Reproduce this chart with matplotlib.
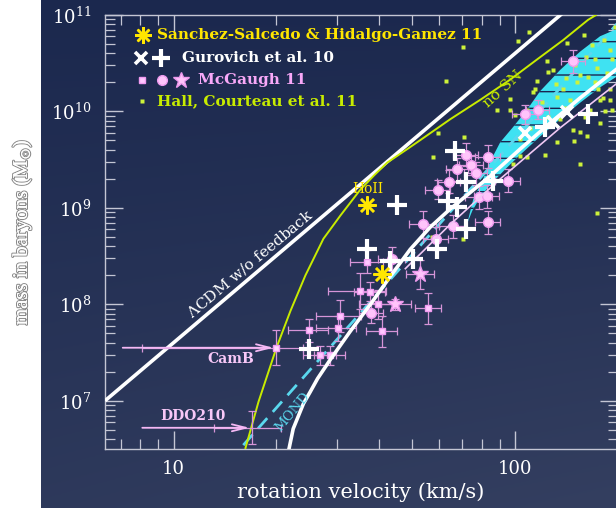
import numpy as np
import matplotlib.pyplot as plt
import matplotlib.patheffects as pe
from matplotlib.patches import Polygon
from matplotlib.ticker import NullFormatter, FuncFormatter

plt.rcParams['font.family'] = ['DejaVu Serif']
plt.rcParams['mathtext.fontset'] = 'dejavuserif'
plt.rcParams['hatch.linewidth'] = 1.0

# --- model lines (v in km/s, log10 of baryonic mass) ---
lcdm_v = [6.3, 142.0]
lcdm_logm = [7.0, 11.06]

nosn_v = [16.24, 17.73, 20.01, 21.98, 24.32, 27.46, 30.78, 35.23, 38.7, 42.24, 48.33,
          53.11, 64.6, 79.0, 96.69, 116.0, 138.2, 163.5, 172.5]
nosn_logm = [6.51, 6.99, 7.55, 7.93, 8.30, 8.68, 8.92, 9.19, 9.34, 9.47, 9.61,
             9.71, 9.92, 10.12, 10.33, 10.54, 10.74, 10.95, 11.0]

mond_v = [16.0, 200.0]
mond_logm = [6.54, 10.92]

fb_v = [21.8, 22.4, 23.0, 24.0, 25.1, 26.4, 28.8, 32.9, 37.7, 43.1, 49.3, 56.4,
        64.6, 73.9, 84.5, 103.4, 126.6, 154.9, 200.0]
fb_logm = [6.51, 6.71, 6.81, 6.97, 7.09, 7.23, 7.43, 7.72, 8.00, 8.29, 8.57, 8.80,
           8.99, 9.16, 9.33, 9.61, 9.88, 10.14, 10.45]

fit_v = [47.7, 64.6, 90.4, 135.4, 200.0]
fit_logm = [8.37, 8.83, 9.30, 9.83, 10.30]

# simulated galaxies band: upper edge then lower edge
band_v = [72.4, 75.4, 80.6, 84.5, 90.4, 98.7, 108.4, 118.3, 135.4, 154.9, 177.3, 200.0,
          200.0, 177.3, 154.9, 135.4, 118.3, 103.4, 93.5, 84.5, 79.0, 74.9]
band_logm = [8.84, 9.09, 9.30, 9.48, 9.68, 9.84, 10.02, 10.21, 10.43, 10.62, 10.78, 10.86,
             10.37, 10.25, 10.09, 9.92, 9.74, 9.55, 9.40, 9.24, 9.11, 8.97]

# --- data ---
# Sanchez-Salcedo & Hidalgo-Gamez 11
ast_v = [36.9, 40.8]
ast_logm = [9.03, 8.31]

# Gurovich et al. 10
plus_v = [45.2, 36.9, 43.1, 50.3, 59.2, 25.0, 66.8, 71.9, 63.7, 67.7, 71.9, 86.2, 163.5, 122.4]
plus_logm = [9.03, 8.57, 8.45, 8.47, 8.57, 7.54, 9.59, 9.27, 9.07, 9.01, 8.78, 9.28, 9.97, 9.84]
xm_v = [129.1, 141.9, 107.0]
xm_logm = [9.89, 9.99, 9.78]

# McGaugh 11
sq_v = [36.9, 35.2, 37.7, 39.8, 30.8, 30.2, 25.0, 40.8, 26.9, 28.8, 55.7]
sq_logm = [8.44, 8.14, 8.13, 8.00, 7.88, 7.75, 7.73, 7.72, 7.47, 7.47, 7.96]
sq_verr = [4.0, 6.8, 4.0, 4.9, 4.6, 4.0, 3.3, 4.2, 3.0, 3.0, 4.9]
sq_merr = [0.12, 0.19, 0.10, 0.15, 0.17, 0.13, 0.12, 0.16, 0.10, 0.10, 0.16]

circ_v = [71.9, 67.7, 74.3, 76.9, 64.1, 59.6, 78.5, 82.8, 53.8, 65.9, 83.4, 58.7,
          43.7, 147.8, 116.8, 107.0, 83.4, 95.4, 37.9]
circ_logm = [9.55, 9.40, 9.44, 9.36, 9.27, 9.19, 9.11, 9.12, 8.83, 8.81, 8.85, 8.68,
             8.47, 10.52, 10.02, 9.97, 9.53, 9.28, 7.91]
circ_verr = [6, 5, 6, 6, 5, 5, 7, 7, 5, 6, 7, 5, 4, 12, 9, 9, 7, 8, 3]
circ_merr = [0.12, 0.12, 0.10, 0.12, 0.12, 0.10, 0.12, 0.12, 0.14, 0.12, 0.12, 0.12,
             0.12, 0.12, 0.10, 0.10, 0.12, 0.12, 0.10]

star_v = [44.6, 52.8]
star_logm = [8.00, 8.31]
star_verr = [5.0, 5.0]
star_merr = [0.06, 0.15]

camb = (20.0, 7.55)
ddo210 = (17.0, 6.72)

# Hall, Courteau et al. 11
hall_v = [109.9, 102.0, 141.9, 70.5, 159.1, 196.1, 124.1, 62.8, 116.0, 129.2, 96.7, 88.6,
          70.9, 59.6, 100.0, 114.4, 154.9, 162.4, 147.8, 192.2, 180.9, 174.9, 185.8, 171.3,
          163.5, 173.7, 144.8, 151.8, 138.2, 132.7, 120.0, 112.9, 108.4, 122.4, 108.4, 132.7,
          148.8, 103.4, 98.7, 154.9, 57.2, 70.5, 183.4, 173.7, 57.6, 96.7, 135.4, 165.7,
          177.3, 189.6, 144.8, 126.6, 171.3, 189.6, 154.9, 124.9, 131.8, 141.0, 149.8, 161.3,
          167.9, 182.0, 192.2, 140.0, 124.9, 160.2, 177.3, 110.6, 103.4, 189.6]
hall_logm = [10.82, 10.73, 10.71, 10.67, 10.79, 10.88, 10.52, 10.32, 10.32, 10.43, 10.13, 10.01,
             9.74, 9.78, 9.96, 10.23, 9.79, 9.75, 9.81, 10.02, 10.14, 10.23, 10.40, 10.31,
             10.36, 10.45, 10.52, 10.31, 10.23, 10.15, 10.10, 10.20, 10.02, 9.55, 9.53, 9.68,
             9.69, 9.54, 9.45, 9.45, 8.70, 8.68, 10.00, 8.95, 9.53, 10.01, 9.92, 10.02,
             10.12, 10.23, 10.12, 9.86, 10.54, 10.64, 10.38, 10.41, 10.28, 10.35, 10.48, 10.56,
             10.69, 10.74, 10.54, 10.04, 9.94, 9.94, 9.88, 9.83, 9.71, 10.12]


def m(logm):
    return 10 ** np.asarray(logm, dtype=float)


def merr(logm, e):
    mm = m(logm)
    e = np.asarray(e, dtype=float)
    return [mm - mm * 10 ** -e, mm * 10 ** e - mm]


fig = plt.figure(figsize=(6.16, 5.08), dpi=100, facecolor='white')

# navy backdrop, slightly lighter towards the bottom
bg = fig.add_axes([41 / 616, 0, 575 / 616, 1], zorder=0)
yy, xx = np.mgrid[0:1:200j, 0:1:200j]
t = np.clip(0.75 * yy + 0.25 * xx * yy, 0, 1)
top = np.array([27, 40, 78]) / 255
bot = np.array([52, 63, 96]) / 255
bg.imshow(top + (bot - top) * t[..., None], aspect='auto', extent=(0, 1, 0, 1), origin='upper')
bg.axis('off')

ax = fig.add_axes([105 / 616, 59 / 508, 513 / 616, 434 / 508], zorder=1)
ax.set_facecolor('none')
ax.set_xscale('log')
ax.set_yscale('log')
ax.set_xlim(6.3, 200)
ax.set_ylim(10 ** 6.5, 1e11)

frame = '#c4c6d4'
for s in ax.spines.values():
    s.set_color(frame)
    s.set_linewidth(1.0)
ax.tick_params(which='both', direction='in', top=True, right=True, colors=frame,
               labelcolor='white', labelsize=13)
ax.tick_params(which='major', length=13, width=1.0)
ax.tick_params(which='minor', length=7, width=0.9)
ax.tick_params(axis='y', pad=10)
ax.tick_params(axis='x', pad=8)
ax.xaxis.set_major_formatter(FuncFormatter(lambda v, p: f'{v:g}'))
ax.xaxis.set_minor_formatter(NullFormatter())
ax.yaxis.set_minor_formatter(NullFormatter())

# band of simulated galaxies
band = Polygon(np.column_stack([band_v, m(band_logm)]), closed=True, facecolor='#3fe2f2',
               edgecolor='#1a2550', hatch='-', lw=0, zorder=2)
ax.add_patch(band)

ax.plot(mond_v, m(mond_logm), color='#5ad8ee', lw=2, dashes=(5, 3), zorder=2.5)
ax.plot(lcdm_v, m(lcdm_logm), color='white', lw=2.6, zorder=3, solid_capstyle='butt')
ax.plot(nosn_v, m(nosn_logm), color='#c8ec00', lw=1.4, zorder=3.1)

# Hall, Courteau dots
ax.plot(hall_v, m(hall_logm), ls='none', marker='s', ms=2.6, mfc='#cdf23a', mec='none', zorder=4)

# McGaugh error bars and symbols
ekw = dict(fmt='none', ecolor='#d695d8', elinewidth=0.9, capsize=3, capthick=0.9, zorder=4)
ax.errorbar(sq_v, m(sq_logm), xerr=sq_verr, yerr=merr(sq_logm, sq_merr), **ekw)
ax.errorbar(circ_v, m(circ_logm), xerr=circ_verr, yerr=merr(circ_logm, circ_merr), **ekw)
ax.errorbar(star_v, m(star_logm), xerr=star_verr, yerr=merr(star_logm, star_merr), **ekw)
ax.errorbar([camb[0]], m([camb[1]]), xerr=[[11.9], [4.0]], yerr=merr([camb[1]], [0.18]), **ekw)
ax.errorbar([ddo210[0]], m([ddo210[1]]), xerr=[[3.9], [3.6]], yerr=merr([ddo210[1]], [0.17]), **ekw)

ax.plot(sq_v, m(sq_logm), ls='none', marker='s', ms=5, mfc='#ffc8ff', mec='#f09af0', zorder=5)
ax.plot(circ_v, m(circ_logm), ls='none', marker='o', ms=7, mfc='#ffc4fb', mec='#ee9aee', zorder=5)
ax.plot(star_v, m(star_logm), ls='none', marker='*', ms=12, mfc='#ffc4fb', mec='#ee9aee', zorder=5)
ax.plot([camb[0]], m([camb[1]]), ls='none', marker='s', ms=5, mfc='#ffd8ff', mec='#f09af0', zorder=5)

# feedback model and fit
ax.plot(fb_v, m(fb_logm), color='white', lw=2.6, zorder=6)
ax.plot(fit_v, m(fit_logm), color='#f0c8f4', lw=1.2, zorder=6)

# Gurovich and Sanchez-Salcedo symbols
ax.plot(plus_v, m(plus_logm), ls='none', marker='+', ms=14, mew=3, color='white', zorder=7)
ax.plot(xm_v, m(xm_logm), ls='none', marker='x', ms=8, mew=2.6, color='white', zorder=7)
ax.plot(ast_v, m(ast_logm), ls='none', marker=(8, 2, 0), ms=13, mew=1.8, color='#ffe600', zorder=7)

# arrows pointing at CamB and DDO210
akw = dict(arrowstyle='->,head_length=1.0,head_width=0.25', color='#f4b8f4', lw=1.3,
           shrinkA=0, shrinkB=2)
ax.annotate('', xy=(camb[0], m(camb[1])), xytext=(7.1, m(camb[1])), arrowprops=akw, zorder=6)
ax.annotate('', xy=(ddo210[0], m(ddo210[1])), xytext=(8.1, m(ddo210[1])), arrowprops=akw, zorder=6)

# line and object labels
ax.text(16.7, m(8.42), r'$\Lambda$CDM w/o feedback', color='white', fontsize=11,
        rotation=40, ha='center', va='center', rotation_mode='anchor', zorder=8)
ax.text(92.0, m(10.23), 'no SN', color='#c8ec00', fontsize=11, rotation=42,
        ha='center', va='center', rotation_mode='anchor', zorder=8)
ax.text(22.3, m(6.89), 'MOND', color='#5ad8ee', fontsize=9.5, rotation=50,
        ha='center', va='center', rotation_mode='anchor', zorder=8)
ax.text(37.1, m(9.20), 'HoII', color='#ffe600', fontsize=10, ha='center', va='center', zorder=8)
ax.text(14.7, m(7.43), 'CamB', color='#f8c8f8', fontsize=10, fontweight='bold',
        ha='center', va='center', zorder=8)
ax.text(11.4, m(6.84), 'DDO210', color='#f8c8f8', fontsize=10, fontweight='bold',
        ha='center', va='center', zorder=8)

# key in the upper left corner
tr = ax.transAxes
kfs = 11
ax.plot([0.074], [0.954], transform=tr, marker=(8, 2, 0), ms=12, mew=1.8, color='#ffe600', zorder=8)
ax.text(0.101, 0.954, 'Sanchez-Salcedo & Hidalgo-Gamez 11', transform=tr, color='#ffe600',
        fontsize=kfs, fontweight='bold', va='center', zorder=8)
ax.plot([0.070], [0.901], transform=tr, marker='x', ms=8, mew=2.6, color='white', zorder=8)
ax.plot([0.109], [0.901], transform=tr, marker='+', ms=13, mew=3, color='white', zorder=8)
ax.text(0.150, 0.901, 'Gurovich et al. 10', transform=tr, color='white',
        fontsize=kfs, fontweight='bold', va='center', zorder=8)
ax.plot([0.072], [0.850], transform=tr, marker='s', ms=5, mfc='#ffc8ff', mec='#f09af0', zorder=8)
ax.plot([0.111], [0.850], transform=tr, marker='o', ms=7, mfc='#ffc4fb', mec='#ee9aee', zorder=8)
ax.plot([0.148], [0.850], transform=tr, marker='*', ms=12, mfc='#ffc4fb', mec='#ee9aee', zorder=8)
ax.text(0.181, 0.850, 'McGaugh 11', transform=tr, color='#f8a8f8',
        fontsize=kfs, fontweight='bold', va='center', zorder=8)
ax.plot([0.072], [0.802], transform=tr, marker='s', ms=2.6, mfc='#cdf23a', mec='none', zorder=8)
ax.text(0.101, 0.802, 'Hall, Courteau et al. 11', transform=tr, color='#c8ec00',
        fontsize=kfs, fontweight='bold', va='center', zorder=8)

fig.text(361 / 616, 1 - 492 / 508, 'rotation velocity (km/s)', color='white', fontsize=15,
         ha='center', va='center')
fig.text(22 / 616, 1 - 232 / 508, r'mass in baryons (M$_{\odot}$)', color='white',
         fontsize=15, family='Liberation Serif', rotation=90, ha='center', va='center',
         path_effects=[pe.withStroke(linewidth=1.6, foreground='#8a8a8a'),
                       pe.Normal()])

fig.savefig('out.png', dpi=100, facecolor=fig.get_facecolor())
